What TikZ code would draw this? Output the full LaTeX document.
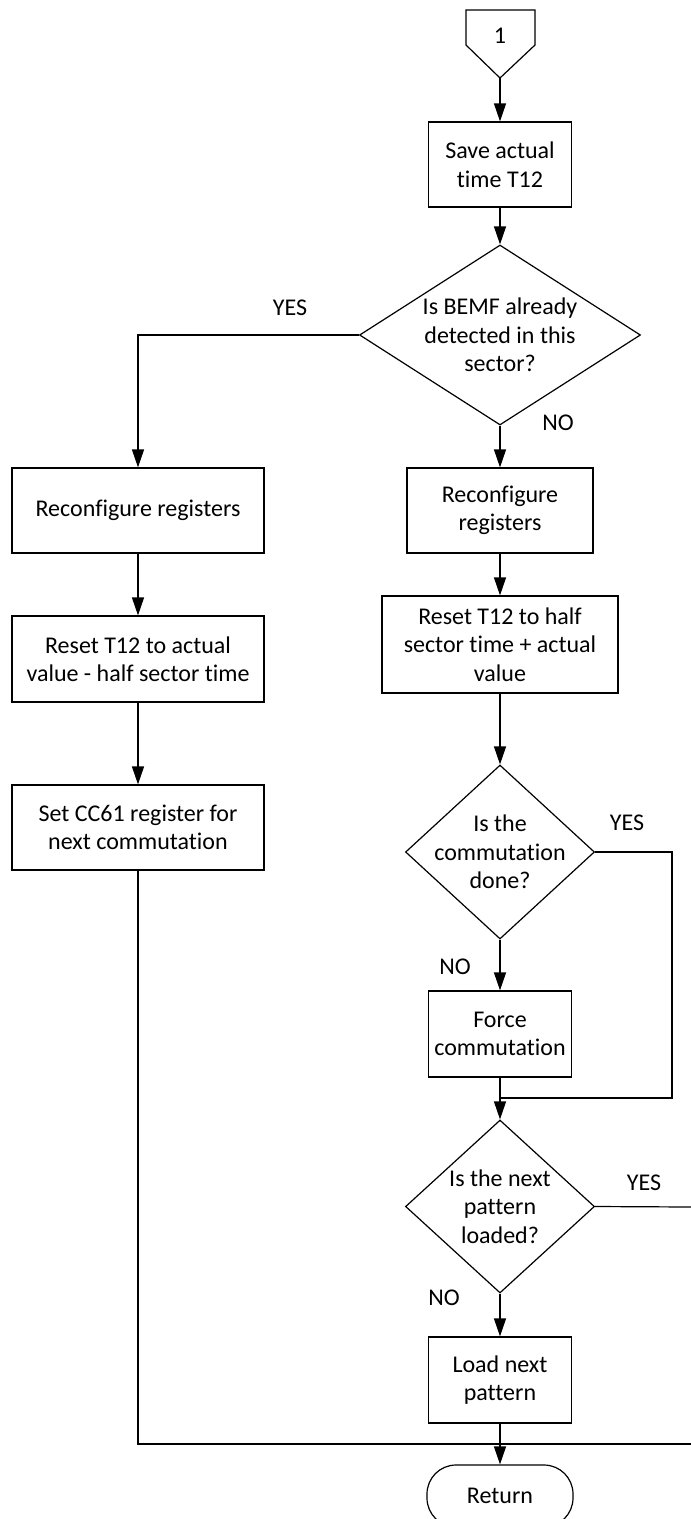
\documentclass[tikz,border=0pt]{standalone}
\usepackage{fontspec}
\setmainfont{Carlito}[Ligatures={NoCommon}]
\usetikzlibrary{arrows.meta,shapes.geometric}
\begin{document}
\begin{tikzpicture}[x=1pt,y=-1pt,
  every node/.style={font=\fontsize{24}{28.5}\selectfont},
  line/.style={line width=1.2pt},
  flow/.style={line width=1.2pt, -{Triangle[length=18pt,width=12pt]}},
  procbox/.style={draw, line width=1.2pt, rectangle, inner sep=0pt, align=center},
  decbox/.style={draw, line width=1.2pt, diamond, inner sep=0pt},
  dectext/.style={align=center, inner sep=0pt},
  termbox/.style={draw, line width=1.2pt, rectangle, rounded corners=29pt, inner sep=0pt},
  tag/.style={inner sep=0pt},
]
\useasboundingbox (0,0) rectangle (691,1519);
\clip (0,0) rectangle (691,1519);

% off-page connector
\draw[line] (466,10) -- (535,10) -- (535,45) -- (500,78) -- (466,45) -- cycle;
\node[tag] (conlabel) at (500,36) {1};
\coordinate (contip) at (500,78);

% main column
\node[procbox, minimum width=143pt, minimum height=85pt] (save) at (500,164.5) {Save actual\\time T12};
\node[decbox, minimum width=281pt, minimum height=180pt] (d1) at (500,335) {};
\node[dectext] (d1t) at (d1.center) {Is BEMF already\\detected in this\\sector?};

\node[procbox, minimum width=186pt, minimum height=85pt] (rreconf) at (500,510.5) {Reconfigure\\registers};
\node[procbox, minimum width=236pt, minimum height=97pt] (rreset) at (500,644.5) {Reset T12 to half\\sector time + actual\\value};

\node[decbox, minimum width=189pt, minimum height=174pt] (d2) at (500,852) {};
\node[dectext] (d2t) at (d2.center) {Is the\\commutation\\done?};
\node[procbox, minimum width=143pt, minimum height=86pt] (force) at (500,1034) {Force\\commutation};

\node[decbox, minimum width=189pt, minimum height=173pt] (d3) at (500,1206.5) {};
\node[dectext] (d3t) at (d3.center) {Is the next\\pattern\\loaded?};
\node[procbox, minimum width=143pt, minimum height=86pt] (load) at (500,1380) {Load next\\pattern};

\node[termbox, minimum width=146pt, minimum height=62pt] (ret) at (500,1496) {Return};

% left column
\node[procbox, minimum width=252pt, minimum height=85pt] (lreconf) at (138,510.5) {Reconfigure registers};
\node[procbox, minimum width=252pt, minimum height=86pt] (lreset) at (138,659) {Reset T12 to actual\\value - half sector time};
\node[procbox, minimum width=252pt, minimum height=85pt] (lcc61) at (138,827.5) {Set CC61 register for\\next commutation};

% branch labels
\node[tag] (yes1) at (290,308) {YES};
\node[tag] (no1) at (558,423) {NO};
\node[tag] (yes2) at (627,823) {YES};
\node[tag] (no2) at (455,967) {NO};
\node[tag] (yes3) at (644,1183) {YES};
\node[tag] (no3) at (444,1298) {NO};

% junctions and free ends
\coordinate (loopcorner) at (672,1098);
\coordinate (join1) at (500,1098);
\coordinate (edgeA) at (691,1207);
\coordinate (edgeB) at (691,1444);
\coordinate (join2) at (500,1444);

% connectors
\draw[flow] (contip) -- (save.north);
\draw[flow] (save.south) -- (d1.north);
\draw[flow] (d1.west) -| (lreconf.north);
\draw[flow] (d1.south) -- (rreconf.north);
\draw[flow] (lreconf.south) -- (lreset.north);
\draw[flow] (lreset.south) -- (lcc61.north);
\draw[flow] (rreconf.south) -- (rreset.north);
\draw[flow] (rreset.south) -- (d2.north);
\draw[flow] (d2.south) -- (force.north);
\draw[line] (d2.east) -| (loopcorner) -- (join1);
\draw[flow] (force.south) -- (d3.north);
\draw[line] (d3.east) -- (edgeA);
\draw[flow] (d3.south) -- (load.north);
\draw[line] (lcc61.south) |- (join2);
\draw[line] (edgeB) -- (join2);
\draw[flow] (load.south) -- (ret.north);
\end{tikzpicture}
\end{document}
